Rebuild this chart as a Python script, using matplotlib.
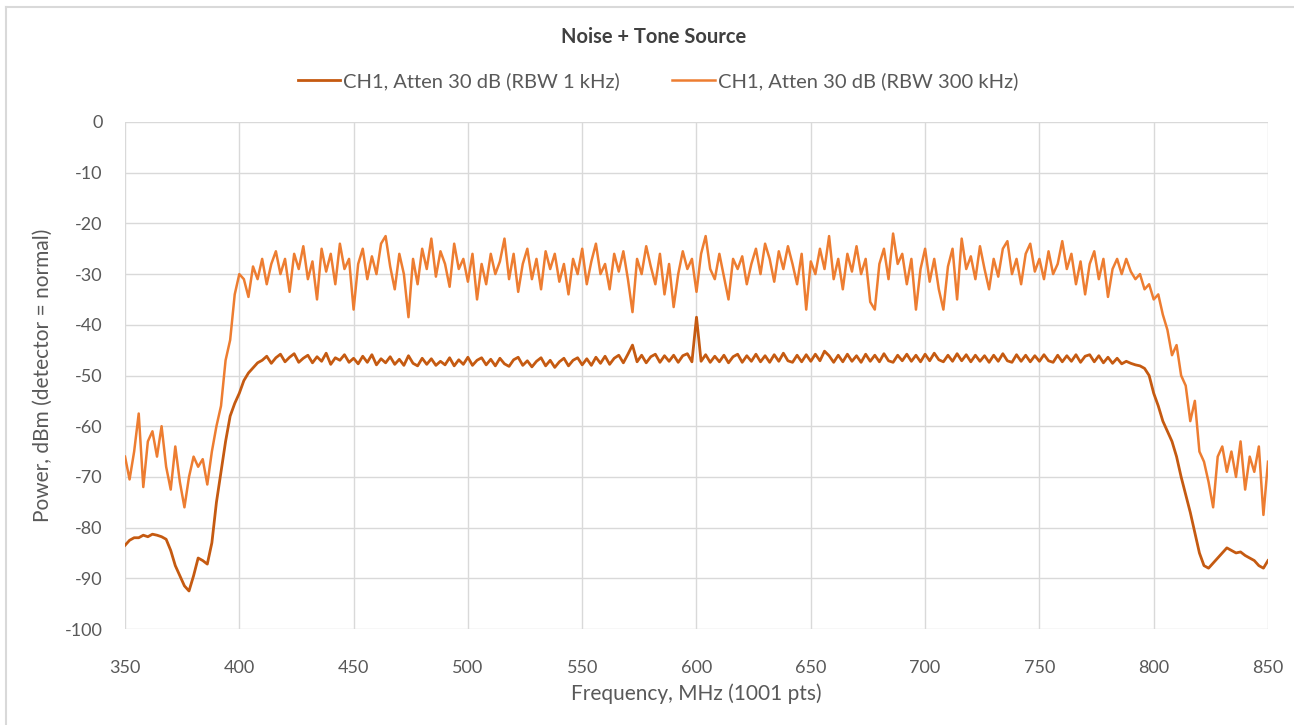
import numpy as np
import matplotlib
matplotlib.use("Agg")
import matplotlib.pyplot as plt
from matplotlib.lines import Line2D

# ---------------- data (2 MHz spacing) ----------------
FREQ_START = 350
FREQ_STOP = 850
FREQ_STEP = 2

title = "Noise + Tone Source"
series_names = ["CH1, Atten 30 dB (RBW 1 kHz)", "CH1, Atten 30 dB (RBW 300 kHz)"]
x_label = "Frequency, MHz (1001 pts)"
y_label = "Power, dBm (detector = normal)"
x_ticks = [350, 400, 450, 500, 550, 600, 650, 700, 750, 800, 850]
y_ticks = [0, -10, -20, -30, -40, -50, -60, -70, -80, -90, -100]

rbw_1khz = [
    -83.5, -82.5, -82, -82, -81.5, -81.8, -81.3, -81.5, -81.8, -82.3,
    -84.5, -87.5, -89.5, -91.5, -92.5, -89.5, -86, -86.5, -87.2, -83,
    -75, -69, -63, -58, -55.5, -53.5, -51, -49.5, -48.5, -47.5,
    -47, -46.2, -47.6, -46.5, -45.8, -47.3, -46.4, -45.7, -47.4, -46.6,
    -46, -47.5, -46.3, -47.2, -45.6, -47.8, -46.5, -47, -45.9, -47.4,
    -46.6, -47.7, -46.2, -47.4, -45.9, -47.9, -46.7, -47.5, -46.3, -47.8,
    -46.8, -48, -46.1, -47.6, -48.1, -46.6, -47.8, -46.7, -48, -47.2,
    -47.9, -46.5, -48.1, -46.9, -47.8, -46.4, -48, -47, -46.5, -47.9,
    -46.8, -48.1, -46.6, -47.7, -48.2, -46.9, -46.4, -48, -47.1, -48.3,
    -47.2, -46.5, -48.1, -47, -48.4, -47.3, -46.6, -48.1, -47, -46.5,
    -47.9, -46.7, -48, -46.4, -47.6, -46.2, -47.8, -46.6, -46, -47.5,
    -45.8, -44, -47.3, -46, -47.5, -46.3, -45.8, -47.4, -46.1, -47.2,
    -46, -47.4, -46.1, -45.7, -47.3, -38.5, -47.2, -45.9, -47.4, -46.2,
    -47.3, -46, -47.5, -46.3, -45.8, -47.4, -46.1, -47.2, -45.8, -47.3,
    -46.1, -47.4, -45.9, -47.2, -45.6, -47.1, -47.4, -46, -47.3, -45.9,
    -47.2, -45.8, -47.1, -45.2, -46.1, -47.4, -46, -47.3, -45.8, -47.2,
    -46.1, -47.4, -45.8, -47.2, -46, -47.3, -45.7, -47.1, -47.4, -46,
    -47.1, -45.8, -47.2, -46, -47.3, -45.8, -47.1, -45.6, -46.9, -47.3,
    -46, -47.2, -45.7, -47.1, -45.9, -47.3, -46, -47.2, -46.1, -47.4,
    -46, -47.2, -45.7, -47.1, -47.4, -45.9, -47.2, -46, -47.3, -46.1,
    -47.2, -45.9, -47.1, -47.4, -46, -47.3, -46.1, -47.2, -45.9, -47.4,
    -46.2, -45.9, -47.3, -46.1, -47.5, -46.4, -47.6, -46.6, -47.7, -47.2,
    -47.6, -47.9, -48.1, -48.6, -50, -53.5, -56, -59, -61, -63,
    -66, -70, -73.5, -77, -81, -85, -87.5, -88, -87, -86,
    -85, -84, -84.5, -85, -84.8, -85.5, -86, -86.5, -87.5, -88,
    -86.5,
]

rbw_300khz = [
    -66, -70.5, -65, -57.5, -72, -63, -61, -66, -60, -68,
    -72.5, -64, -71, -76, -70, -66, -68, -66.5, -71.5, -65,
    -60, -56, -47, -43, -34, -30, -31, -34.5, -28.5, -31,
    -27, -32, -28, -25.5, -30, -27, -33.5, -26, -29, -24.5,
    -31, -27.5, -35, -25, -29.5, -26, -32, -24, -29, -27,
    -37, -28, -25, -31, -26.5, -30, -24, -22.5, -28.5, -33,
    -26, -30, -38.5, -27, -32, -25, -29, -23, -30.5, -25.5,
    -28, -32.5, -24, -29, -27, -31.5, -26, -35, -28, -32,
    -26, -30, -27.5, -23, -31, -26, -33.5, -28, -25, -31,
    -27, -33, -25.5, -29, -26, -31.5, -28, -34, -27, -30,
    -25, -32, -27.5, -24, -30, -28, -33, -26, -29.5, -25.5,
    -31, -37.5, -27, -30, -24.5, -28.5, -32, -26, -34, -28,
    -36.5, -30, -25.5, -29, -27, -33.5, -26, -22.5, -29, -31,
    -26, -30.5, -35, -27, -29, -26.5, -32, -28, -25, -30,
    -24, -27, -31.5, -25.5, -29, -24.5, -28, -32, -26, -37,
    -27.5, -30, -25, -29, -22.5, -31, -27, -33, -26, -29.5,
    -24.5, -30, -27, -35.5, -37, -28, -25, -31, -22, -28,
    -26, -32, -27, -37, -29, -25, -31.5, -27, -33, -37,
    -28.5, -25, -35, -23, -29, -26.5, -31, -24.5, -29, -33,
    -27, -30.5, -25, -23.5, -30, -27, -32, -26, -24, -29.5,
    -27, -31, -25.5, -30, -28, -23.5, -29, -26, -32, -27.5,
    -34, -28, -25.5, -31, -27, -34.5, -29, -27, -30, -27,
    -29.5, -31, -30, -33, -32, -35, -34, -38, -41, -46,
    -44, -50, -52, -59, -55, -65, -67, -71, -76, -66,
    -64, -69, -65, -70, -63, -72.5, -66, -69, -64, -77.5,
    -67,
]

freq = np.arange(FREQ_START, FREQ_STOP + FREQ_STEP, FREQ_STEP)
assert len(freq) == len(rbw_1khz) == len(rbw_300khz), (len(freq), len(rbw_1khz), len(rbw_300khz))

# ---------------- styling ----------------
FONT = ["Lato", "DejaVu Sans"]
plt.rcParams["font.family"] = FONT
TXT = "#595959"
GRID = "#D9D9D9"
C_DARK = "#C55A11"
C_LIGHT = "#ED7D31"

fig = plt.figure(figsize=(12.94, 7.25), dpi=100)
fig.patch.set_facecolor("white")
# chart-area border (only top and left edges are visible in the reference crop)
fig.lines.append(Line2D([6 / 1294, 6 / 1294], [0, 1 - 7 / 725], transform=fig.transFigure,
                        color=GRID, lw=1.5))
fig.lines.append(Line2D([6 / 1294, 1], [1 - 7 / 725, 1 - 7 / 725], transform=fig.transFigure,
                        color=GRID, lw=1.5))

ax = fig.add_axes([125 / 1294, 1 - 629 / 725, (1268 - 125) / 1294, (629 - 122) / 725])
ax.plot(freq, rbw_1khz, color=C_DARK, lw=2.0, label=series_names[0], zorder=3)
ax.plot(freq, rbw_300khz, color=C_LIGHT, lw=1.8, label=series_names[1], zorder=2)

ax.set_xlim(FREQ_START, FREQ_STOP)
ax.set_ylim(-100, 0)
ax.set_xticks(x_ticks)
ax.set_yticks(y_ticks)
ax.set_xticklabels([str(t) for t in x_ticks])
ax.set_yticklabels([str(t) for t in y_ticks])
ax.grid(True, color=GRID, lw=1.0)
ax.set_axisbelow(True)
for s in ax.spines.values():
    s.set_visible(False)
ax.tick_params(axis="both", length=0, colors=TXT, labelsize=13)
ax.tick_params(axis="y", pad=16)
ax.tick_params(axis="x", pad=22)

ax.set_xlabel(x_label, fontsize=15, color=TXT, labelpad=6)
ax.yaxis.set_label_coords(-72 / 1143, 0.5)
ax.set_ylabel(y_label, fontsize=15, color=TXT)

fig.text(654 / 1294, 1 - 37 / 725, title, ha="center", va="center",
         fontsize=14.5, fontweight="bold", color="#404040")

handles, labels = ax.get_legend_handles_labels()
fig.legend(handles, labels, loc="center", bbox_to_anchor=(658 / 1294, 1 - 81 / 725),
           ncol=2, frameon=False, fontsize=14.5, labelcolor=TXT,
           handlelength=2.1, handletextpad=0.15, columnspacing=2.6)

fig.savefig("out.png", dpi=100, facecolor="white")
